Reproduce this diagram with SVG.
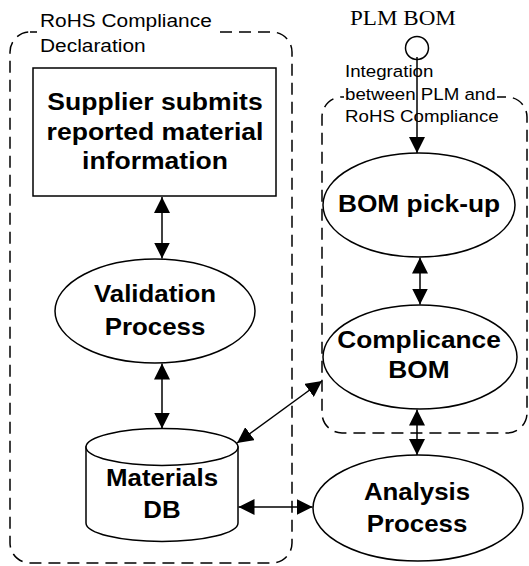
<svg xmlns="http://www.w3.org/2000/svg" width="529" height="566" viewBox="0 0 529 566">
  <style>
    .shape { fill: #ffffff; stroke: #000000; stroke-width: 1.5; }
    .dash { fill: none; stroke: #000000; stroke-width: 1.5; stroke-dasharray: 12 7; }
    .bold { font-family: "Liberation Sans", Arial, sans-serif; font-weight: bold; font-size: 23.5px; fill: #000000; text-anchor: middle; }
    .lbl { font-family: "Liberation Sans", Arial, sans-serif; font-size: 18.5px; fill: #000000; }
    .lbl2 { font-family: "Liberation Sans", Arial, sans-serif; font-size: 17px; fill: #000000; }
    .serif { font-family: "Liberation Serif", "Times New Roman", serif; font-size: 22px; fill: #000000; }
    .conn { fill: none; stroke: #000000; stroke-width: 1.5; }
  </style>
  <defs>
    <marker id="arrow" markerUnits="userSpaceOnUse" markerWidth="16" markerHeight="16" viewBox="0 0 16 16" refX="16" refY="8" orient="auto-start-reverse">
      <path d="M0,0 L16,8 L0,16 Z" fill="#000000"/>
    </marker>
  </defs>
  <rect width="529" height="566" fill="#ffffff"/>

  <g id="rohs-declaration">
    <rect class="dash" x="10" y="32" width="282" height="531" rx="20" ry="20"/>
    <rect x="37" y="8" width="181" height="50" fill="#ffffff"/>
    <text class="lbl" transform="translate(40,26.5) scale(1.13,1)">RoHS Compliance</text>
    <text class="lbl" transform="translate(40,51.5) scale(1.13,1)">Declaration</text>
  </g>

  <g id="integration">
    <rect class="dash" x="322" y="97" width="205" height="336" rx="20" ry="20"/>
    <rect x="344" y="62" width="153" height="66" fill="#ffffff"/>
    <text class="lbl2" transform="translate(345,77) scale(1.1,1)">Integration</text>
    <text class="lbl2" transform="translate(345,100) scale(1.1,1)">between PLM and</text>
    <text class="lbl2" transform="translate(345,122) scale(1.1,1)">RoHS Compliance</text>
  </g>

  <g id="plm-bom">
    <text class="serif" transform="translate(350,25) scale(1.05,1)">PLM BOM</text>
    <circle class="shape" cx="417" cy="48" r="11.5"/>
  </g>

  <g id="supplier">
    <rect class="shape" x="33" y="68" width="243" height="128"/>
    <text class="bold" transform="translate(155,110) scale(1.13,1)">Supplier submits</text>
    <text class="bold" transform="translate(155,139.5) scale(1.13,1)">reported material</text>
    <text class="bold" transform="translate(155,168.5) scale(1.13,1)">information</text>
  </g>

  <g id="validation">
    <ellipse class="shape" cx="155" cy="311" rx="100" ry="52"/>
    <text class="bold" transform="translate(155,302) scale(1.1,1)">Validation</text>
    <text class="bold" transform="translate(155,334.5) scale(1.1,1)">Process</text>
  </g>

  <g id="materials-db">
    <path class="shape" d="M86,447 L86,523 A76,18.5 0 0 0 238,523 L238,447 Z"/>
    <ellipse class="shape" cx="162" cy="447" rx="76" ry="18.5"/>
    <text class="bold" transform="translate(162,486) scale(1.1,1)">Materials</text>
    <text class="bold" transform="translate(162,518) scale(1.1,1)">DB</text>
  </g>

  <g id="bom-pickup">
    <ellipse class="shape" cx="419" cy="205" rx="96" ry="52"/>
    <text class="bold" transform="translate(419,212) scale(1.12,1)">BOM pick-up</text>
  </g>

  <g id="compliance-bom">
    <ellipse class="shape" cx="420" cy="357" rx="97" ry="52"/>
    <text class="bold" transform="translate(419,348) scale(1.12,1)">Complicance</text>
    <text class="bold" transform="translate(419,378) scale(1.12,1)">BOM</text>
  </g>

  <g id="analysis">
    <ellipse class="shape" cx="418" cy="508" rx="105" ry="53"/>
    <text class="bold" transform="translate(417,500) scale(1.1,1)">Analysis</text>
    <text class="bold" transform="translate(417,532) scale(1.1,1)">Process</text>
  </g>

  <g id="connectors">
    <line class="conn" x1="162" y1="197" x2="162" y2="258.5" marker-start="url(#arrow)" marker-end="url(#arrow)"/>
    <line class="conn" x1="162" y1="363.5" x2="162" y2="428.5" marker-start="url(#arrow)" marker-end="url(#arrow)"/>
    <line class="conn" x1="237" y1="443" x2="322" y2="381" marker-start="url(#arrow)" marker-end="url(#arrow)"/>
    <line class="conn" x1="238.5" y1="507" x2="312.5" y2="507" marker-start="url(#arrow)" marker-end="url(#arrow)"/>
    <line class="conn" x1="417" y1="57" x2="417" y2="153" marker-end="url(#arrow)"/>
    <line class="conn" x1="420" y1="257.5" x2="420" y2="304.5" marker-start="url(#arrow)" marker-end="url(#arrow)"/>
    <line class="conn" x1="417" y1="409.5" x2="417" y2="455" marker-start="url(#arrow)" marker-end="url(#arrow)"/>
  </g>
</svg>
